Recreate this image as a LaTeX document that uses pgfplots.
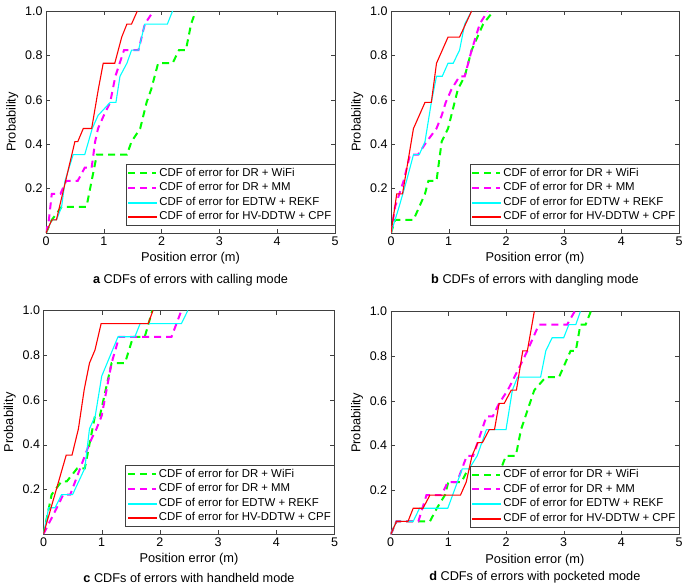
\documentclass[border=0pt]{standalone}
\usepackage{fontspec}
\setmainfont{Liberation Sans}
\usepackage{pgfplots}
\pgfplotsset{compat=1.18}

\definecolor{cgreen}{rgb}{0,1,0}
\definecolor{cmag}{rgb}{1,0,1}
\definecolor{ccyan}{rgb}{0,1,1}
\definecolor{cred}{rgb}{1,0,0}

\pgfplotsset{
  cdfaxis/.style={
    anchor=south west,
    scale only axis, width=289pt, height=222pt,
    xmin=0, xmax=5, ymin=0, ymax=1,
    xtick={0,1,2,3,4,5}, ytick={0.2,0.4,0.6,0.8,1},
    yticklabel style={/pgf/number format/fixed,
      /pgf/number format/fixed zerofill, /pgf/number format/precision=1},
    /pgf/number format/assume math mode=true,
    tick label style={font=\fontsize{12.5}{14}\selectfont},
    label style={font=\fontsize{12.8}{14}\selectfont},
    xlabel={Position error (m)}, ylabel={Probability},
    axis line style={black!75}, major tick style={black!75},
    major tick length=4pt,
    clip mode=individual,
    legend style={at={(rel axis cs:1,0.032)}, anchor=south east,
      draw=black!75, font=\fontsize{11.4}{13}\selectfont,
      cells={anchor=west}, inner sep=1.5pt,
      nodes={inner sep=2pt, text height=8pt, text depth=2.5pt}},
    legend image code/.code={\draw[##1] (0pt,0pt) -- (28pt,0pt);},
  },
  wifi/.style={color=cgreen, line width=2pt, dash pattern=on 7pt off 5pt},
  mm/.style={color=cmag, line width=2pt, dash pattern=on 7pt off 5pt},
  rekf/.style={color=ccyan, line width=1.1pt},
  cpf/.style={color=cred, line width=1.1pt},
}
\newcommand{\capfont}{\fontsize{12.7}{14}\selectfont}
% legend samples; the data plots below use forget plot
\newcommand{\keys}{%
  \addlegendimage{wifi}\addlegendentry{CDF of error for DR + WiFi}
  \addlegendimage{mm}\addlegendentry{CDF of error for DR + MM}
  \addlegendimage{legend image code/.code={\fill[ccyan] (0pt,-0.6pt) rectangle (28pt,0.6pt);}}
  \addlegendentry{CDF of error for EDTW + REKF}
  \addlegendimage{legend image code/.code={\fill[cred] (0pt,-0.6pt) rectangle (28pt,0.6pt);}}
  \addlegendentry{CDF of error for HV-DDTW + CPF}}

\begin{document}
\begin{tikzpicture}
\useasboundingbox (0,0) rectangle (685pt,587pt);

% a calling
\begin{axis}[cdfaxis, at={(46pt,354pt)}]
\keys
\addplot[wifi, forget plot] coordinates {(0,0)(0.1,0.0588)(0.27,0.1176)(0.70,0.1176)(0.88,0.3529)(1.40,0.3529)(1.48,0.4118)(1.63,0.4706)(1.74,0.5882)(1.82,0.6471)(1.94,0.7647)(2.19,0.7647)(2.30,0.8235)(2.42,0.8235)(2.51,0.9412)(2.59,1)};
\addplot[mm, forget plot] coordinates {(0,0)(0.05,0.0588)(0.1,0.1765)(0.25,0.1765)(0.35,0.2353)(0.55,0.2353)(0.67,0.2941)(0.79,0.2941)(0.85,0.4118)(0.90,0.4706)(1.0,0.5294)(1.11,0.5882)(1.20,0.7059)(1.35,0.8235)(1.60,0.8235)(1.71,0.9412)(1.86,1)};
\addplot[rekf, forget plot] coordinates {(0,0)(0.1,0.0588)(0.18,0.0588)(0.27,0.1176)(0.33,0.2353)(0.47,0.3529)(0.67,0.3529)(0.80,0.4706)(0.9,0.5294)(1.11,0.5882)(1.21,0.5882)(1.28,0.7059)(1.40,0.7647)(1.48,0.8235)(1.60,0.8235)(1.71,0.9412)(2.10,0.9412)(2.19,1)};
\addplot[cpf, forget plot] coordinates {(0,0)(0.1,0.0588)(0.18,0.0588)(0.5,0.4118)(0.55,0.4118)(0.645,0.4706)(0.79,0.4706)(0.905,0.6471)(0.99,0.7647)(1.19,0.7647)(1.31,0.8824)(1.40,0.9412)(1.48,0.9412)(1.58,1)};
\node[font=\capfont] at (rel axis cs:0.5,0) [yshift=-47pt] {\textbf{a} CDFs of errors with calling mode};
\end{axis}

% b dangling
\begin{axis}[cdfaxis, at={(391pt,354pt)}, width=288pt]
\keys
\addplot[wifi, forget plot] coordinates {(0,0)(0.07,0.0588)(0.39,0.0588)(0.59,0.1765)(0.65,0.2353)(0.79,0.2353)(0.88,0.4118)(0.99,0.4706)(1.16,0.6471)(1.28,0.7059)(1.40,0.8235)(1.60,0.9412)(1.78,1)};
\addplot[mm, forget plot] coordinates {(0,0)(0.07,0.1176)(0.22,0.2353)(0.33,0.3529)(0.47,0.3529)(0.62,0.4118)(0.79,0.4706)(0.88,0.5294)(0.95,0.5882)(1.05,0.6471)(1.19,0.7059)(1.28,0.7059)(1.40,0.8235)(1.54,0.9412)(1.68,1)};
\addplot[rekf, forget plot] coordinates {(0,0)(0.14,0.1176)(0.27,0.2353)(0.39,0.3529)(0.49,0.3529)(0.59,0.4118)(0.70,0.5882)(0.79,0.7059)(0.89,0.7059)(0.99,0.7647)(1.08,0.7647)(1.19,0.8235)(1.28,0.9412)(1.40,1)};
\addplot[cpf, forget plot] coordinates {(0,0)(0.1,0.1765)(0.2,0.1765)(0.39,0.4706)(0.59,0.5882)(0.70,0.5882)(0.79,0.7647)(0.99,0.8824)(1.19,0.8824)(1.40,1)};
\node[font=\capfont] at (rel axis cs:0.5,0) [yshift=-47pt] {\textbf{b} CDFs of errors with dangling mode};
\end{axis}

% c handheld
\begin{axis}[cdfaxis, at={(43.5pt,53pt)}, width=291pt, height=223.5pt]
\keys
\addplot[wifi, forget plot] coordinates {(0,0)(0.14,0.1765)(0.31,0.2353)(0.40,0.2353)(0.58,0.2941)(0.71,0.2941)(0.885,0.5294)(0.97,0.5294)(1.17,0.7647)(1.40,0.7647)(1.54,0.8824)(1.74,0.8824)(1.87,1)};
\addplot[mm, forget plot] coordinates {(0,0)(0.23,0.1176)(0.34,0.1765)(0.46,0.1765)(0.63,0.2941)(0.80,0.4118)(0.91,0.4706)(1.0,0.5294)(1.17,0.7647)(1.30,0.8824)(2.2,0.8824)(2.37,1)};
\addplot[rekf, forget plot] coordinates {(0,0)(0.09,0.1176)(0.2,0.1176)(0.31,0.1765)(0.5,0.1765)(0.71,0.2941)(0.79,0.4706)(0.89,0.5294)(1.0,0.7059)(1.28,0.8824)(1.57,0.8824)(1.66,0.9412)(2.37,0.9412)(2.48,1)};
\addplot[cpf, forget plot] coordinates {(0,0)(0.39,0.3529)(0.49,0.3529)(0.6,0.4706)(0.70,0.6471)(0.79,0.7647)(0.885,0.8235)(0.99,0.9412)(1.80,0.9412)(1.88,1)};
\node[font=\capfont] at (rel axis cs:0.5,0) [yshift=-43.5pt] {\textbf{c} CDFs of errors with handheld mode};
\end{axis}

% d pocketed
\begin{axis}[cdfaxis, at={(390.7pt,52.5pt)}, width=288.3pt, height=223pt]
\keys
\addplot[wifi, forget plot] coordinates {(0,0)(0.1,0.0588)(0.68,0.0588)(0.80,0.1176)(0.94,0.1765)(1.0,0.2353)(1.23,0.2353)(1.34,0.2941)(1.91,0.2941)(2.0,0.3529)(2.17,0.3529)(2.26,0.4706)(2.49,0.6471)(2.69,0.7059)(2.92,0.7059)(3.12,0.8235)(3.21,0.8235)(3.29,0.9412)(3.38,0.9412)(3.47,1)};
\addplot[mm, forget plot] coordinates {(0,0)(0.1,0.0588)(0.48,0.0588)(0.62,0.1765)(0.88,0.1765)(0.99,0.2353)(1.15,0.2353)(1.32,0.3529)(1.43,0.3529)(1.66,0.5294)(1.77,0.5294)(1.88,0.5882)(2.03,0.6471)(2.26,0.7647)(2.37,0.8235)(2.47,0.8824)(2.57,0.9412)(3.06,0.9412)(3.19,1)};
\addplot[rekf, forget plot] coordinates {(0,0)(0.1,0.0588)(0.39,0.0588)(0.5,0.1176)(0.99,0.1176)(1.24,0.2941)(1.36,0.2941)(1.50,0.3529)(1.66,0.4706)(2.0,0.4706)(2.11,0.6471)(2.2,0.7059)(2.60,0.7059)(2.69,0.8235)(2.80,0.8824)(3.0,0.8824)(3.09,0.9412)(3.21,0.9412)(3.29,1)};
\addplot[cpf, forget plot] coordinates {(0,0)(0.1,0.0588)(0.3,0.0588)(0.39,0.1176)(0.56,0.1176)(0.68,0.1765)(1.21,0.1765)(1.31,0.2353)(1.41,0.3529)(1.51,0.4118)(1.59,0.4118)(1.71,0.4706)(1.80,0.4706)(1.88,0.5882)(1.97,0.5882)(2.09,0.6471)(2.18,0.6471)(2.29,0.8235)(2.37,0.8235)(2.49,1)};
\node[font=\capfont] at (rel axis cs:0.5,0) [yshift=-43pt] {\textbf{d} CDFs of errors with pocketed mode};
\end{axis}
\end{tikzpicture}
\end{document}
